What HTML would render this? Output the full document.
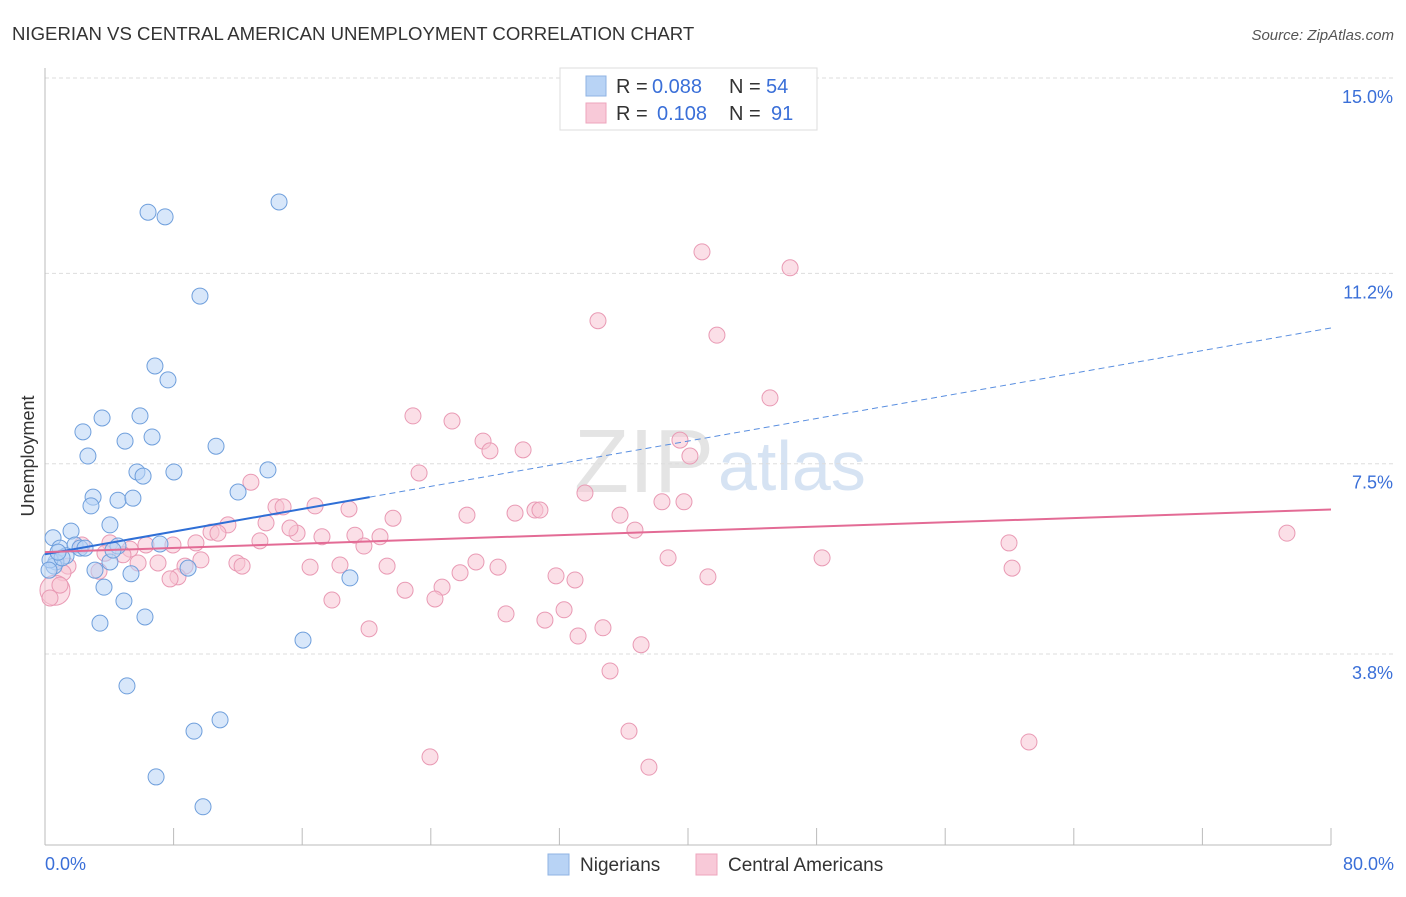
<!DOCTYPE html>
<html><head><meta charset="utf-8"><style>
body{margin:0;background:#fff;font-family:"Liberation Sans",sans-serif;}
svg text{font-family:"Liberation Sans",sans-serif;}
</style></head><body>
<svg id="chart" width="1406" height="892">
<text x="12" y="40" font-size="18.6" fill="#333">NIGERIAN VS CENTRAL AMERICAN UNEMPLOYMENT CORRELATION CHART</text>
<text x="1394" y="40" font-size="15" fill="#555" font-style="italic" text-anchor="end">Source: ZipAtlas.com</text>
<text x="714" y="492" font-size="90" fill="#e4e4e4" text-anchor="end" font-family="Liberation Serif">ZIP</text>
<text x="718" y="490" font-size="70" fill="#d6e3f3">atlas</text>
<text x="34" y="456" font-size="18" fill="#333" text-anchor="middle" transform="rotate(-90 34 456)">Unemployment</text>
<g id="grid"></g><g id="axes"></g><g id="pts"></g><g id="trend"></g>
<g font-size="20">
<rect x="560" y="68" width="257" height="62" fill="#fff" stroke="#ddd"/>
<rect x="586" y="76" width="20" height="20" fill="#b8d3f5" stroke="#8fb3e3"/>
<text x="616" y="93" fill="#333">R =</text><text x="652" y="93" fill="#3a6fd8">0.088</text>
<text x="729" y="93" fill="#333">N =</text><text x="766" y="93" fill="#3a6fd8">54</text>
<rect x="586" y="103" width="20" height="20" fill="#f8c9d8" stroke="#eea5bd"/>
<text x="616" y="120" fill="#333">R =</text><text x="657" y="120" fill="#3a6fd8">0.108</text>
<text x="729" y="120" fill="#333">N =</text><text x="771" y="120" fill="#3a6fd8">91</text>
</g>
<g>
<rect x="548" y="854" width="21" height="21" fill="#b8d3f5" stroke="#8fb3e3"/>
<text x="580" y="871" font-size="19" fill="#333">Nigerians</text>
<rect x="696" y="854" width="21" height="21" fill="#f8c9d8" stroke="#eea5bd"/>
<text x="728" y="871" font-size="19" fill="#333">Central Americans</text>
</g>
</svg>
<script>
const yTicks=[15.0,11.2,7.5,3.8];
const yTickLabels=["15.0%","11.2%","7.5%","3.8%"];
const xTickLabels=["0.0%","80.0%"];
const blueX=[6.41,7.47,14.56,9.64,6.84,7.65,3.55,5.91,2.36,4.98,6.66,10.64,2.67,5.72,6.10,8.02,13.87,2.99,2.86,4.54,5.47,12.01,4.04,1.62,0.50,0.93,1.87,2.18,4.54,7.15,1.31,0.68,0.56,3.11,4.04,5.35,8.90,18.97,3.67,4.91,6.22,3.42,16.05,5.10,10.89,9.27,6.91,9.83,0.31,1.06,2.49,4.23,0.25,0.81];
const blueY=[12.39,12.30,12.59,10.76,9.40,9.13,8.39,8.43,8.12,7.94,8.02,7.84,7.65,7.34,7.26,7.34,7.38,6.85,6.68,6.79,6.83,6.95,6.31,6.19,6.06,5.86,5.92,5.86,5.90,5.94,5.71,5.59,5.51,5.43,5.59,5.36,5.47,5.28,5.10,4.83,4.52,4.40,4.07,3.18,2.52,2.30,1.41,0.83,5.63,5.67,5.86,5.82,5.43,5.78];
const pinkX=[40.87,46.35,34.40,41.80,45.10,22.89,25.32,27.25,27.68,29.74,39.50,40.12,23.27,12.81,33.59,38.38,39.75,16.80,18.91,14.37,14.81,26.25,29.24,30.48,30.79,35.77,21.65,11.38,13.75,36.70,15.68,15.24,17.23,19.28,20.84,10.33,10.76,77.26,59.97,9.39,19.84,6.28,4.04,5.29,7.96,2.30,4.85,3.73,13.37,11.94,18.35,16.49,21.28,26.81,28.18,38.76,48.34,60.16,9.70,12.26,7.03,8.71,5.79,1.43,1.12,3.36,8.27,7.78,31.79,32.97,41.24,25.82,24.70,22.40,24.26,17.85,28.68,31.10,32.29,34.71,33.16,20.16,37.08,35.15,36.33,61.21,23.95,37.57,0.62,0.31,0.93];
const pinkY=[11.62,11.31,10.28,10.00,8.78,8.43,8.33,7.94,7.75,7.77,7.96,7.65,7.32,7.14,6.93,6.76,6.76,6.68,6.62,6.66,6.66,6.50,6.54,6.60,6.60,6.50,6.44,6.31,6.35,6.21,6.15,6.25,6.08,6.11,6.08,6.17,6.15,6.15,5.96,5.96,5.90,5.92,5.96,5.84,5.92,5.92,5.73,5.76,6.00,5.57,5.53,5.49,5.51,5.59,5.49,5.67,5.67,5.47,5.63,5.51,5.57,5.51,5.57,5.51,5.38,5.41,5.30,5.26,5.32,5.24,5.30,5.38,5.10,5.04,4.87,4.85,4.58,4.46,4.66,4.31,4.15,4.29,3.98,3.47,2.30,2.09,1.80,1.60,5.04,4.89,5.14];
const blueTrend=[5.74,10.14];
const pinkTrend=[5.78,6.61];
const blueSolidEnd=20.2;
const NS="http://www.w3.org/2000/svg";
const sx=v=>45+v*16.075;
const sy=v=>78+(15-v)*51.43;
function mk(tag,attrs,parent){const e=document.createElementNS(NS,tag);for(const k in attrs)e.setAttribute(k,attrs[k]);parent.appendChild(e);return e;}
const grid=document.getElementById('grid'),axes=document.getElementById('axes'),pts=document.getElementById('pts'),tr=document.getElementById('trend');
yTicks.forEach((t,i)=>{
 const l=mk('line',{x1:45,x2:1394,y1:sy(t),y2:sy(t),stroke:'#ddd','stroke-dasharray':'4,3'},grid);
 
 
 const tx=mk('text',{x:1393,y:sy(t)+25,'font-size':18,fill:'#3a6fd8','text-anchor':'end'},axes);
 tx.textContent=yTickLabels[i];
 
 
});
const ax=mk('line',{x1:45,x2:45,y1:68,y2:845,stroke:'#bbb'},axes);


const bx=mk('line',{x1:45,x2:1331,y1:845,y2:845,stroke:'#bbb'},axes);


for(let i=0;i<=10;i++){const x=45+i*128.6;const t=mk('line',{x1:x,x2:x,y1:828,y2:845,stroke:'#bbb'},axes);
 
 }
[[0,'start',45],[80,'end',1394]].forEach((d,i)=>{const t=mk('text',{x:d[2],y:870,'font-size':18,fill:'#3a6fd8','text-anchor':d[1]},axes);t.textContent=xTickLabels[i];
 
 });
function dots(X,Y,fill,stroke,name){X.forEach((x,i)=>{const big=(name==='pink-point'&&i===X.length-3);const c=mk('circle',{cx:sx(x),cy:sy(Y[i]),r:big?15:8,fill:fill,'fill-opacity':0.55,stroke:stroke,'stroke-width':1},pts);
 
 });}
dots(pinkX,pinkY,'#f8c4d4','#e99ab4','pink-point');
dots(blueX,blueY,'#b8d3f5','#6f9fdc','blue-point');
const by=x=>blueTrend[0]+(blueTrend[1]-blueTrend[0])*x/80;
const l1=mk('line',{x1:sx(0),y1:sy(by(0)),x2:sx(blueSolidEnd),y2:sy(by(blueSolidEnd)),stroke:'#2f6fd6','stroke-width':2},tr);


const l2=mk('line',{x1:sx(blueSolidEnd),y1:sy(by(blueSolidEnd)),x2:sx(80),y2:sy(by(80)),stroke:'#5a8fe0','stroke-width':1,'stroke-dasharray':'6,4'},tr);


const l3=mk('line',{x1:sx(0),y1:sy(pinkTrend[0]),x2:sx(80),y2:sy(pinkTrend[1]),stroke:'#e36b95','stroke-width':2},tr);


</script>
</body></html>
